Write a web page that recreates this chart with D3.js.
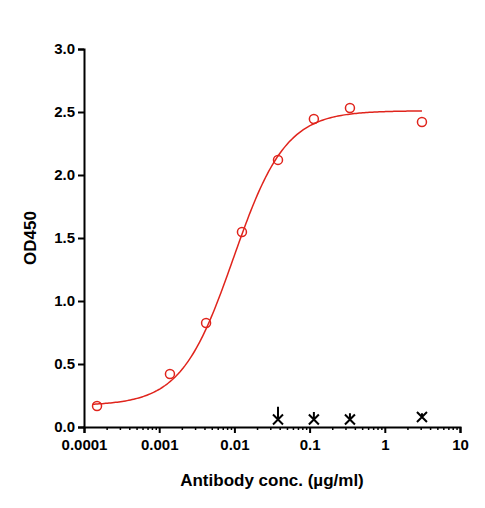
<!DOCTYPE html><html><head><script src="https://cdn.jsdelivr.net/npm/d3@7"></script>
<style>body{margin:0;background:#fff}text{font-family:"Liberation Sans",Arial,sans-serif;font-weight:bold}</style></head><body>
<svg id="c" width="485" height="508"></svg>
<script>
const concX=[0.000149,0.00139,0.0042,0.0126,0.038,0.114,0.344,3.12];
const od=[0.167,0.42,0.825,1.548,2.12,2.444,2.532,2.42];
const blankX=[0.038,0.114,0.344,3.12];
const blankY=[0.06,0.06,0.06,0.08];
const blankErr=[0.1,0.06,0.05,0.03];
const fit={bottom:0.17,top:2.51,ec50:0.0097,hill:1.25};
const xTicks=[0.0001,0.001,0.01,0.1,1,10];
const xLabels=["0.0001","0.001","0.01","0.1","1","10"];
const yTicks=[0,0.5,1,1.5,2,2.5,3];
const svg=d3.select("#c");
const x=d3.scaleLog().domain([1e-4,10]).range([84,460]);
const y=d3.scaleLinear().domain([0,3]).range([427,49]);
const red="#e0241c";
const minor=[];xTicks.slice(0,-1).forEach(t=>{for(let k=2;k<10;k++)minor.push(t*k);});
svg.append("g").attr("transform","translate(0,427)").call(d3.axisBottom(x).tickValues(minor).tickFormat("").tickSize(3).tickSizeOuter(0))
 .call(g=>{g.selectAll("path").remove();g.selectAll("line").attr("stroke","#000").attr("stroke-width",1.5);});
svg.append("g").attr("transform","translate(0,427)").call(d3.axisBottom(x).tickValues(xTicks).tickFormat((d,i)=>xLabels[i]).tickSize(6))
 .call(g=>{g.selectAll("path,line").attr("stroke","#000").attr("stroke-width",2);g.selectAll("text").attr("font-size",15).attr("fill","#000").attr("dy","0.9em");});
svg.append("g").attr("transform","translate(84,0)").call(d3.axisLeft(y).tickValues(yTicks).tickFormat(d3.format(".1f")).tickSize(6))
 .call(g=>{g.selectAll("path,line").attr("stroke","#000").attr("stroke-width",2);g.selectAll("text").attr("font-size",15).attr("fill","#000");});
const f=c=>fit.bottom+(fit.top-fit.bottom)/(1+Math.pow(fit.ec50/c,fit.hill));
const xs=d3.range(0,201).map(i=>Math.pow(10,Math.log10(0.00013)+i/200*(Math.log10(3.12)-Math.log10(0.00013))));
svg.append("path").attr("d",d3.line().x(d=>x(d)).y(d=>y(f(d)))(xs)).attr("fill","none").attr("stroke",red).attr("stroke-width",1.5);
svg.selectAll("circle").data(concX).join("circle").attr("cx",d=>x(d)).attr("cy",(d,i)=>y(od[i])).attr("r",4.5).attr("fill","none").attr("stroke",red).attr("stroke-width",1.5);
blankX.forEach((b,i)=>{const cx=x(b),cy=y(blankY[i]);
 svg.append("path").attr("d",`M${cx-5},${cy-5}L${cx+5},${cy+5}M${cx-5},${cy+5}L${cx+5},${cy-5}M${cx},${cy}L${cx},${y(blankY[i]+blankErr[i])}`).attr("stroke","#000").attr("stroke-width",2);});
svg.append("text").attr("x",272).attr("y",486).attr("text-anchor","middle").attr("font-size",17).text("Antibody conc. (µg/ml)");
svg.append("text").attr("transform","translate(36,238) rotate(-90)").attr("text-anchor","middle").attr("font-size",17).text("OD450");
</script></body></html>
